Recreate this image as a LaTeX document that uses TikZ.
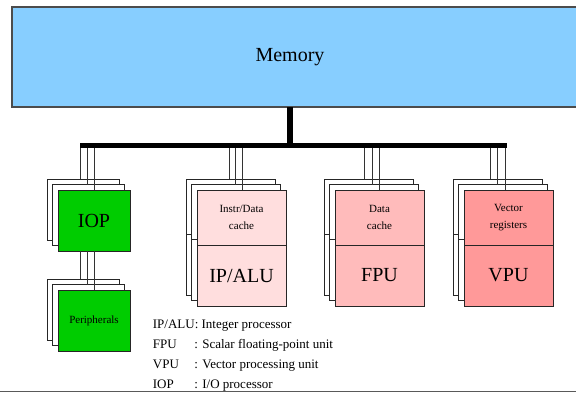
\documentclass[tikz,border=0pt]{standalone}
\usepackage{fontspec}
\setmainfont{Liberation Serif}
\definecolor{memblue}{RGB}{135,206,255}
\definecolor{iopgreen}{RGB}{0,204,0}
\definecolor{alupink}{RGB}{255,222,222}
\definecolor{fpupink}{RGB}{255,187,187}
\definecolor{vpupink}{RGB}{255,153,153}
\begin{document}
\begin{tikzpicture}[x=1pt,y=-1pt,
  box/.style={rectangle, draw=black!85, line width=0.9pt, anchor=north west, inner sep=0pt, outer sep=0pt, fill=white},
  iopbox/.style={box, minimum width=72pt, minimum height=61pt},
  topbox/.style={box, minimum width=89pt, minimum height=55pt},
  botbox/.style={box, minimum width=89pt, minimum height=61pt},
  wire/.style={draw=black!80, line width=0.9pt},
  bigtxt/.style={font=\fontsize{20}{24}\selectfont},
  smalltxt/.style={font=\fontsize{11}{17.5}\selectfont, align=center},
  legend/.style={font=\fontsize{13}{20}\selectfont, align=left, inner sep=0pt}]
\useasboundingbox (0,0) rectangle (576,394);
\clip (0,0) rectangle (576,394);
\fill[white] (0,0) rectangle (576,394);

% Memory
\node[box, fill=memblue, draw=black!70, line width=1.2pt, minimum width=572pt, minimum height=100pt] (mem) at (12,7) {};
\node[bigtxt, inner sep=0pt] (memtxt) at (290,57) {Memory};

% Bus
\node[rectangle, fill=black, inner sep=0pt, outer sep=0pt, minimum width=427pt, minimum height=5.5pt] (bus) at (293.5,145.5) {};
\draw[line width=6.3pt] (mem.south -| 290.2,0) -- (bus.north -| 290.2,0);

% IOP stack
\node[iopbox] (iop1) at (47,179) {};
\node[iopbox] (iop2) at (52.5,184.5) {};
\node[iopbox, fill=iopgreen, bigtxt] (iop3) at (58,190) {IOP};

% Peripherals stack
\node[iopbox] (per1) at (47,279) {};
\node[iopbox] (per2) at (52.5,284.5) {};
\node[iopbox, fill=iopgreen, smalltxt] (per3) at (58,290) {Peripherals};

% IP/ALU stack
\node[topbox] (alu1t) at (186,179) {};
\node[botbox] (alu1b) at (alu1t.south west) {};
\node[topbox] (alu2t) at (191.5,184.5) {};
\node[botbox] (alu2b) at (alu2t.south west) {};
\node[topbox, fill=alupink, smalltxt] (alu3t) at (197,190) {Instr/Data\\cache};
\node[botbox, fill=alupink, bigtxt] (alu3b) at (alu3t.south west) {IP/ALU};

% FPU stack
\node[topbox] (fpu1t) at (324,179) {};
\node[botbox] (fpu1b) at (fpu1t.south west) {};
\node[topbox] (fpu2t) at (329.5,184.5) {};
\node[botbox] (fpu2b) at (fpu2t.south west) {};
\node[topbox, fill=fpupink, smalltxt] (fpu3t) at (335,190) {Data\\cache};
\node[botbox, fill=fpupink, bigtxt] (fpu3b) at (fpu3t.south west) {FPU};

% VPU stack
\node[topbox] (vpu1t) at (453,179) {};
\node[botbox] (vpu1b) at (vpu1t.south west) {};
\node[topbox] (vpu2t) at (458.5,184.5) {};
\node[botbox] (vpu2b) at (vpu2t.south west) {};
\node[topbox, fill=vpupink, smalltxt] (vpu3t) at (464,190) {Vector\\registers};
\node[botbox, fill=vpupink, bigtxt] (vpu3b) at (vpu3t.south west) {VPU};

% Connectors from bus
\draw[wire] (bus.south -| 80.7,0) -- (iop1.north -| 80.7,0);
\draw[wire] (bus.south -| 87.3,0) -- (iop2.north -| 87.3,0);
\draw[wire] (bus.south -| 94,0) -- (iop3.north -| 94,0);
\draw[wire] (bus.south -| 229,0) -- (alu1t.north -| 229,0);
\draw[wire] (bus.south -| 235.7,0) -- (alu2t.north -| 235.7,0);
\draw[wire] (bus.south -| 242.3,0) -- (alu3t.north -| 242.3,0);
\draw[wire] (bus.south -| 364.3,0) -- (fpu1t.north -| 364.3,0);
\draw[wire] (bus.south -| 372,0) -- (fpu2t.north -| 372,0);
\draw[wire] (bus.south -| 379.7,0) -- (fpu3t.north -| 379.7,0);
\draw[wire] (bus.south -| 490,0) -- (vpu1t.north -| 490,0);
\draw[wire] (bus.south -| 497.7,0) -- (vpu2t.north -| 497.7,0);
\draw[wire] (bus.south -| 505.3,0) -- (vpu3t.north -| 505.3,0);

% IOP to peripherals
\draw[wire] (iop3.south -| 80.7,0) -- (per1.north -| 80.7,0);
\draw[wire] (iop3.south -| 87.3,0) -- (per2.north -| 87.3,0);
\draw[wire] (iop3.south -| 94,0) -- (per3.north -| 94,0);

% Legend
\node[legend, anchor=west] (leg) at (152.7,356) {IP/ALU: Integer processor\\
\makebox[41.5pt][l]{FPU}: Scalar floating-point unit\\
\makebox[41.5pt][l]{VPU}: Vector processing unit\\
\makebox[41.5pt][l]{IOP}: I/O processor};

% bottom rule
\draw[line width=1.5pt, black!65] (0,391.7) -- (576,391.7);
\end{tikzpicture}
\end{document}
